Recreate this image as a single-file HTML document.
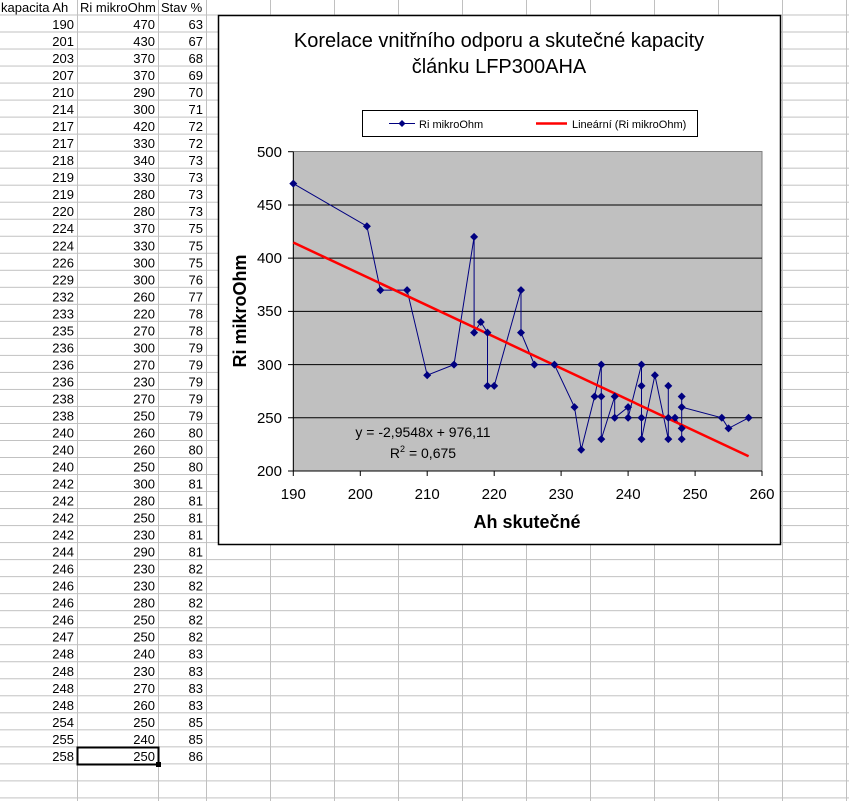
<!DOCTYPE html>
<html><head><meta charset="utf-8"><style>
html,body{margin:0;padding:0;background:#fff;}
svg{display:block;font-family:"Liberation Sans",Arial,sans-serif;}
</style></head><body>
<svg width="849" height="801" viewBox="0 0 849 801" xmlns="http://www.w3.org/2000/svg">
<defs>
<pattern id="rows" x="0" y="14.5" width="849" height="17.02" patternUnits="userSpaceOnUse">
<line x1="0" y1="0.5" x2="849" y2="0.5" stroke="#c0c0c0" stroke-width="1"/>
</pattern>
</defs>
<rect x="0" y="14" width="849" height="787" fill="url(#rows)"/>
<g stroke="#c0c0c0" stroke-width="1">
<line x1="77.5" y1="0" x2="77.5" y2="801"/><line x1="158.5" y1="0" x2="158.5" y2="801"/><line x1="206.5" y1="0" x2="206.5" y2="801"/><line x1="270.5" y1="0" x2="270.5" y2="801"/><line x1="334.5" y1="0" x2="334.5" y2="801"/><line x1="398.5" y1="0" x2="398.5" y2="801"/><line x1="462.5" y1="0" x2="462.5" y2="801"/><line x1="526.5" y1="0" x2="526.5" y2="801"/><line x1="590.5" y1="0" x2="590.5" y2="801"/><line x1="654.5" y1="0" x2="654.5" y2="801"/><line x1="718.5" y1="0" x2="718.5" y2="801"/><line x1="782.5" y1="0" x2="782.5" y2="801"/><line x1="846.5" y1="0" x2="846.5" y2="801"/>
</g>
<g font-size="13" fill="#000">
<text x="1" y="12">kapacita Ah</text><text x="80" y="12">Ri mikroOhm</text><text x="161" y="12">Stav %</text>
</g>
<g font-size="13" fill="#000" text-anchor="end">
<text><tspan x="74" y="29">190</tspan><tspan x="74" y="46">201</tspan><tspan x="74" y="63">203</tspan><tspan x="74" y="80.1">207</tspan><tspan x="74" y="97.1">210</tspan><tspan x="74" y="114.1">214</tspan><tspan x="74" y="131.1">217</tspan><tspan x="74" y="148.1">217</tspan><tspan x="74" y="165.2">218</tspan><tspan x="74" y="182.2">219</tspan><tspan x="74" y="199.2">219</tspan><tspan x="74" y="216.2">220</tspan><tspan x="74" y="233.2">224</tspan><tspan x="74" y="250.3">224</tspan><tspan x="74" y="267.3">226</tspan><tspan x="74" y="284.3">229</tspan><tspan x="74" y="301.3">232</tspan><tspan x="74" y="318.3">233</tspan><tspan x="74" y="335.4">235</tspan><tspan x="74" y="352.4">236</tspan><tspan x="74" y="369.4">236</tspan><tspan x="74" y="386.4">236</tspan><tspan x="74" y="403.4">238</tspan><tspan x="74" y="420.5">238</tspan><tspan x="74" y="437.5">240</tspan><tspan x="74" y="454.5">240</tspan><tspan x="74" y="471.5">240</tspan><tspan x="74" y="488.5">242</tspan><tspan x="74" y="505.6">242</tspan><tspan x="74" y="522.6">242</tspan><tspan x="74" y="539.6">242</tspan><tspan x="74" y="556.6">244</tspan><tspan x="74" y="573.6">246</tspan><tspan x="74" y="590.7">246</tspan><tspan x="74" y="607.7">246</tspan><tspan x="74" y="624.7">246</tspan><tspan x="74" y="641.7">247</tspan><tspan x="74" y="658.7">248</tspan><tspan x="74" y="675.8">248</tspan><tspan x="74" y="692.8">248</tspan><tspan x="74" y="709.8">248</tspan><tspan x="74" y="726.8">254</tspan><tspan x="74" y="743.8">255</tspan><tspan x="74" y="760.9">258</tspan></text>
<text><tspan x="155" y="29">470</tspan><tspan x="155" y="46">430</tspan><tspan x="155" y="63">370</tspan><tspan x="155" y="80.1">370</tspan><tspan x="155" y="97.1">290</tspan><tspan x="155" y="114.1">300</tspan><tspan x="155" y="131.1">420</tspan><tspan x="155" y="148.1">330</tspan><tspan x="155" y="165.2">340</tspan><tspan x="155" y="182.2">330</tspan><tspan x="155" y="199.2">280</tspan><tspan x="155" y="216.2">280</tspan><tspan x="155" y="233.2">370</tspan><tspan x="155" y="250.3">330</tspan><tspan x="155" y="267.3">300</tspan><tspan x="155" y="284.3">300</tspan><tspan x="155" y="301.3">260</tspan><tspan x="155" y="318.3">220</tspan><tspan x="155" y="335.4">270</tspan><tspan x="155" y="352.4">300</tspan><tspan x="155" y="369.4">270</tspan><tspan x="155" y="386.4">230</tspan><tspan x="155" y="403.4">270</tspan><tspan x="155" y="420.5">250</tspan><tspan x="155" y="437.5">260</tspan><tspan x="155" y="454.5">260</tspan><tspan x="155" y="471.5">250</tspan><tspan x="155" y="488.5">300</tspan><tspan x="155" y="505.6">280</tspan><tspan x="155" y="522.6">250</tspan><tspan x="155" y="539.6">230</tspan><tspan x="155" y="556.6">290</tspan><tspan x="155" y="573.6">230</tspan><tspan x="155" y="590.7">230</tspan><tspan x="155" y="607.7">280</tspan><tspan x="155" y="624.7">250</tspan><tspan x="155" y="641.7">250</tspan><tspan x="155" y="658.7">240</tspan><tspan x="155" y="675.8">230</tspan><tspan x="155" y="692.8">270</tspan><tspan x="155" y="709.8">260</tspan><tspan x="155" y="726.8">250</tspan><tspan x="155" y="743.8">240</tspan><tspan x="155" y="760.9">250</tspan></text>
<text><tspan x="203" y="29">63</tspan><tspan x="203" y="46">67</tspan><tspan x="203" y="63">68</tspan><tspan x="203" y="80.1">69</tspan><tspan x="203" y="97.1">70</tspan><tspan x="203" y="114.1">71</tspan><tspan x="203" y="131.1">72</tspan><tspan x="203" y="148.1">72</tspan><tspan x="203" y="165.2">73</tspan><tspan x="203" y="182.2">73</tspan><tspan x="203" y="199.2">73</tspan><tspan x="203" y="216.2">73</tspan><tspan x="203" y="233.2">75</tspan><tspan x="203" y="250.3">75</tspan><tspan x="203" y="267.3">75</tspan><tspan x="203" y="284.3">76</tspan><tspan x="203" y="301.3">77</tspan><tspan x="203" y="318.3">78</tspan><tspan x="203" y="335.4">78</tspan><tspan x="203" y="352.4">79</tspan><tspan x="203" y="369.4">79</tspan><tspan x="203" y="386.4">79</tspan><tspan x="203" y="403.4">79</tspan><tspan x="203" y="420.5">79</tspan><tspan x="203" y="437.5">80</tspan><tspan x="203" y="454.5">80</tspan><tspan x="203" y="471.5">80</tspan><tspan x="203" y="488.5">81</tspan><tspan x="203" y="505.6">81</tspan><tspan x="203" y="522.6">81</tspan><tspan x="203" y="539.6">81</tspan><tspan x="203" y="556.6">81</tspan><tspan x="203" y="573.6">82</tspan><tspan x="203" y="590.7">82</tspan><tspan x="203" y="607.7">82</tspan><tspan x="203" y="624.7">82</tspan><tspan x="203" y="641.7">82</tspan><tspan x="203" y="658.7">83</tspan><tspan x="203" y="675.8">83</tspan><tspan x="203" y="692.8">83</tspan><tspan x="203" y="709.8">83</tspan><tspan x="203" y="726.8">85</tspan><tspan x="203" y="743.8">85</tspan><tspan x="203" y="760.9">86</tspan></text>
</g>
<!-- selected cell -->
<rect x="77.5" y="747.5" width="81" height="17" fill="none" stroke="#000" stroke-width="2"/>
<rect x="156" y="762" width="5" height="5" fill="#000"/>

<!-- chart -->
<rect x="218.5" y="15.5" width="562" height="529" fill="#fff" stroke="#000" stroke-width="1.5"/>
<g font-size="20" fill="#000" text-anchor="middle">
<text x="499" y="47">Korelace vnitřního odporu a skutečné kapacity</text>
<text x="499" y="73">článku LFP300AHA</text>
</g>
<rect x="362.5" y="110.5" width="335" height="26" fill="#fff" stroke="#000" stroke-width="1"/>
<line x1="389" y1="123.5" x2="415" y2="123.5" stroke="#000080" stroke-width="1"/>
<path d="M402 120 L405.5 123.5 L402 127 L398.5 123.5Z" fill="#000080"/>
<text x="419" y="128" font-size="11">Ri mikroOhm</text>
<line x1="536" y1="123.5" x2="567" y2="123.5" stroke="#ff0000" stroke-width="2.5"/>
<text x="572" y="128" font-size="11">Lineární (Ri mikroOhm)</text>

<rect x="293.5" y="151.5" width="468.5" height="319.5" fill="#c0c0c0" stroke="#808080" stroke-width="1"/>
<g stroke="#000" stroke-width="1">
<line x1="288" y1="205" x2="762" y2="205"/><line x1="288" y1="258.1" x2="762" y2="258.1"/><line x1="288" y1="311.4" x2="762" y2="311.4"/><line x1="288" y1="364.6" x2="762" y2="364.6"/><line x1="288" y1="417.8" x2="762" y2="417.8"/>
<line x1="288" y1="151.7" x2="293.3" y2="151.7"/><line x1="288" y1="471" x2="762" y2="471"/>
<line x1="293.3" y1="151.7" x2="293.3" y2="476"/>
<line x1="360.3" y1="471" x2="360.3" y2="476"/><line x1="427.2" y1="471" x2="427.2" y2="476"/><line x1="494.2" y1="471" x2="494.2" y2="476"/><line x1="561.1" y1="471" x2="561.1" y2="476"/><line x1="628.1" y1="471" x2="628.1" y2="476"/><line x1="695.1" y1="471" x2="695.1" y2="476"/><line x1="762" y1="471" x2="762" y2="476"/>
</g>
<g font-size="15" fill="#000" text-anchor="end">
<text x="282" y="157">500</text><text x="282" y="210">450</text><text x="282" y="263">400</text><text x="282" y="316">350</text><text x="282" y="370">300</text><text x="282" y="423">250</text><text x="282" y="476">200</text>
</g>
<g font-size="15" fill="#000" text-anchor="middle">
<text x="293.3" y="499">190</text><text x="360.3" y="499">200</text><text x="427.2" y="499">210</text><text x="494.2" y="499">220</text><text x="561.1" y="499">230</text><text x="628.1" y="499">240</text><text x="695.1" y="499">250</text><text x="762" y="499">260</text>
</g>
<text x="527" y="528" font-size="18" font-weight="bold" text-anchor="middle">Ah skutečné</text>
<text transform="translate(246,311) rotate(-90)" font-size="18" font-weight="bold" text-anchor="middle">Ri mikroOhm</text>

<polyline fill="none" stroke="#000080" stroke-width="1" points="293.3,183.6 366.9,226.2 380.4,290.1 407.1,290.1 427.2,375.2 454,364.6 474.1,236.9 474.1,332.6 480.8,322 487.5,332.6 487.5,385.9 494.2,385.9 521,290.1 521,332.6 534.4,364.6 554.4,364.6 574.5,407.1 581.2,449.7 594.6,396.5 601.3,364.6 601.3,396.5 601.3,439.1 614.7,396.5 614.7,417.8 628.1,407.1 628.1,407.1 628.1,417.8 641.5,364.6 641.5,385.9 641.5,417.8 641.5,439.1 654.9,375.2 668.3,439.1 668.3,439.1 668.3,385.9 668.3,417.8 675,417.8 681.7,428.4 681.7,439.1 681.7,396.5 681.7,407.1 721.8,417.8 728.5,428.4 748.6,417.8"/>
<line x1="293.3" y1="242.5" x2="748.6" y2="456.3" stroke="#ff0000" stroke-width="2.5"/>
<g fill="#000080">
<path d="M293.3 179.6l4 4-4 4-4-4z M366.9 222.2l4 4-4 4-4-4z M380.4 286.1l4 4-4 4-4-4z M407.1 286.1l4 4-4 4-4-4z M427.2 371.2l4 4-4 4-4-4z M454 360.6l4 4-4 4-4-4z M474.1 232.9l4 4-4 4-4-4z M474.1 328.6l4 4-4 4-4-4z M480.8 318l4 4-4 4-4-4z M487.5 328.6l4 4-4 4-4-4z M487.5 381.9l4 4-4 4-4-4z M494.2 381.9l4 4-4 4-4-4z M521 286.1l4 4-4 4-4-4z M521 328.6l4 4-4 4-4-4z M534.4 360.6l4 4-4 4-4-4z M554.4 360.6l4 4-4 4-4-4z M574.5 403.1l4 4-4 4-4-4z M581.2 445.7l4 4-4 4-4-4z M594.6 392.5l4 4-4 4-4-4z M601.3 360.6l4 4-4 4-4-4z M601.3 392.5l4 4-4 4-4-4z M601.3 435.1l4 4-4 4-4-4z M614.7 392.5l4 4-4 4-4-4z M614.7 413.8l4 4-4 4-4-4z M628.1 403.1l4 4-4 4-4-4z M628.1 413.8l4 4-4 4-4-4z M641.5 360.6l4 4-4 4-4-4z M641.5 381.9l4 4-4 4-4-4z M641.5 413.8l4 4-4 4-4-4z M641.5 435.1l4 4-4 4-4-4z M654.9 371.2l4 4-4 4-4-4z M668.3 435.1l4 4-4 4-4-4z M668.3 381.9l4 4-4 4-4-4z M668.3 413.8l4 4-4 4-4-4z M675 413.8l4 4-4 4-4-4z M681.7 424.4l4 4-4 4-4-4z M681.7 435.1l4 4-4 4-4-4z M681.7 392.5l4 4-4 4-4-4z M681.7 403.1l4 4-4 4-4-4z M721.8 413.8l4 4-4 4-4-4z M728.5 424.4l4 4-4 4-4-4z M748.6 413.8l4 4-4 4-4-4z"/>
</g>
<g font-size="14" fill="#000" text-anchor="middle">
<text x="423" y="437">y = -2,9548x + 976,11</text>
<text x="423" y="458">R<tspan font-size="9" dy="-6">2</tspan><tspan dy="6"> = 0,675</tspan></text>
</g>
</svg>
</body></html>
